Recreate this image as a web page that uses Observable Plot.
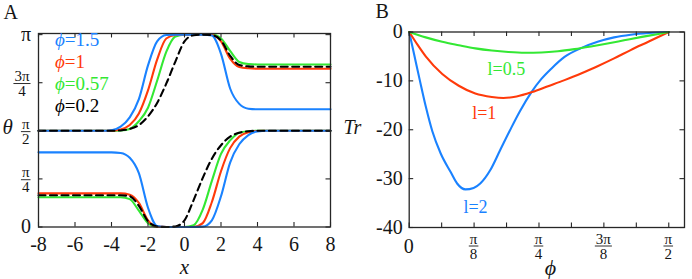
<!DOCTYPE html>
<html><head><meta charset="utf-8">
<script src="https://cdn.jsdelivr.net/npm/d3@7"></script>
<script src="https://cdn.jsdelivr.net/npm/@observablehq/plot@0.6"></script>
<style>
body{margin:0;background:#fff;}
#wrap{position:relative;width:692px;height:279px;overflow:hidden;background:#fff;}
#wrap svg{position:absolute;top:0;}
</style></head><body><div id="wrap"></div>
<script>
// ---------------- Panel A data (theta in units of pi) ----------------
const xA = [-8,-5,-4.5,-4,-3.5,-3,-2.5,-2,-1.5,-1,-0.5,0,0.5,1,1.5,2,2.5,3,3.5,4,4.5,5,8];
const upper15  = [0.5,0.5,0.5,0.503,0.522,0.57,0.665,0.84,0.965,0.998,1,1,1,1,0.995,0.9,0.72,0.64,0.615,0.612,0.612,0.612,0.612];
const upper1   = [0.5,0.5,0.5,0.501,0.507,0.53,0.59,0.71,0.87,0.98,0.998,1,1,1,0.998,0.965,0.875,0.832,0.825,0.823,0.823,0.823,0.823];
const upper057 = [0.5,0.5,0.5,0.5,0.502,0.51,0.55,0.62,0.76,0.91,0.99,1,1,1,1,0.98,0.915,0.858,0.847,0.845,0.845,0.845,0.845];
const upper02  = [0.5,0.5,0.5,0.5,0.502,0.51,0.53,0.575,0.645,0.745,0.86,0.965,0.997,1,0.997,0.97,0.89,0.842,0.835,0.833,0.833,0.833,0.833];
const lower15  = [0.388,0.388,0.388,0.388,0.385,0.36,0.28,0.1,0.005,0,0,0,0,0.002,0.035,0.16,0.335,0.43,0.478,0.497,0.5,0.5,0.5];
const lower1   = [0.175,0.175,0.175,0.175,0.175,0.168,0.125,0.035,0.002,0,0,0,0,0.02,0.13,0.29,0.41,0.47,0.493,0.499,0.5,0.5,0.5];
const lower057 = [0.155,0.155,0.155,0.155,0.155,0.145,0.085,0.02,0,0,0,0,0.009,0.09,0.24,0.38,0.45,0.49,0.498,0.5,0.5,0.5,0.5];
const lower02  = [0.165,0.165,0.165,0.165,0.165,0.16,0.11,0.03,0.003,0,0.003,0.035,0.14,0.255,0.355,0.425,0.47,0.49,0.498,0.5,0.5,0.5,0.5];
const phiNames = ["1.5","1","0.57","0.2"];
const xTicksA = [-8,-6,-4,-2,0,2,4,6,8];
const yTicksA = [0, Math.PI/4, Math.PI/2, 3*Math.PI/4, Math.PI];
const yNumA = ["0","π","π","3π","π"];
const yDenA = [null,"4","2","4",null];

// ---------------- Panel B data ----------------
const phiL2 = [0,0.03,0.065,0.1,0.14,0.19,0.25,0.29,0.34,0.39,0.43,0.49,0.55,0.61,0.67,0.74,0.8,0.86,0.94,1.04,1.14,1.24,1.34,1.45,1.5708];
const trL2  = [0,-4.6,-10,-15.2,-20.3,-24.8,-28.6,-31,-32.2,-31.9,-31,-28.3,-24.2,-20.1,-16.2,-12.3,-9.6,-7.5,-5.1,-3.3,-2.0,-1.1,-0.55,-0.2,0];
const phiL1 = [0,0.05,0.1,0.2,0.3,0.4,0.5,0.57,0.65,0.744,0.84,0.94,1.04,1.14,1.24,1.34,1.45,1.5708];
const trL1  = [0,-2.6,-5,-8.6,-11,-12.6,-13.3,-13.5,-13.2,-12.3,-11.1,-9.85,-8.5,-7.0,-5.4,-3.7,-1.95,0];
const phiL05 = [0,0.1,0.2,0.3,0.4,0.5,0.6,0.7,0.8,0.9,1.0,1.1,1.2,1.3,1.4,1.5,1.5708];
const trL05  = [0,-1.1,-2.0,-2.7,-3.35,-3.8,-4.1,-4.25,-4.2,-3.95,-3.5,-2.95,-2.35,-1.7,-1.05,-0.45,0];
const lNames = ["l=2","l=1","l=0.5"];
const lLabelPhi = [0.328, 0.381, 0.474];
const lLabelTr  = [-37.1, -17.9, -8.9];
const yTicksB = [0,-10,-20,-30,-40];
const xMinorB = d3.range(0, 9).map(k => k*Math.PI/16);
const xTicksB = [0, Math.PI/8, Math.PI/4, 3*Math.PI/8, Math.PI/2];
const xNumB = ["0","π","π","3π","π"];
const xDenB = [null,"8","4","8","2"];

// ---------------- styles ----------------
const SERIF = "Liberation Serif, DejaVu Serif, Times New Roman, serif";
const INK = "#161616", AXIS = "#262626";
const BLUE = "#1a82ff", RED = "#ff3a0a", GREEN = "#33e833", BLACK = "#000000";
const colorsA = [BLUE, RED, GREEN, BLACK];
const colorsB = [BLUE, RED, GREEN];

function rows(xs, ys, f = v => v) { return xs.map((x, i) => ({x, y: f(ys[i])})); }
function scaleFn(s) { return s.apply ? (v => s.apply(v)) : d3.scaleLinear(s.domain, s.range); }

const wrap = document.getElementById("wrap");

// ================= Panel A =================
const A = {w: 336, h: 279, ml: 38, mr: 6, mt: 33, mb: 52.5};
const fwA = A.w - A.ml - A.mr, fhA = A.h - A.mt - A.mb;
const toRad = v => v * Math.PI;
const seriesA = [
  {up: upper057, lo: lower057, color: GREEN},
  {up: upper1, lo: lower1, color: RED},
  {up: upper15, lo: lower15, color: BLUE},
  {up: upper02, lo: lower02, color: BLACK, dash: "7,4.5"}
];
const marksA = [];
for (const s of seriesA) {
  for (const arr of [s.up, s.lo]) {
    marksA.push(Plot.line(rows(xA, arr, toRad), {x: "x", y: "y", stroke: s.color, strokeWidth: 2.1,
      curve: "monotone-x", strokeDasharray: s.dash || null, strokeLinejoin: "round"}));
  }
}
const plotA = Plot.plot({
  width: A.w, height: A.h, marginLeft: A.ml, marginRight: A.mr, marginTop: A.mt, marginBottom: A.mb,
  x: {domain: [-8, 8], axis: null},
  y: {domain: [0, 3.16], axis: null},
  style: {background: "transparent", overflow: "visible", fontFamily: SERIF},
  marks: [
    ...marksA,
    Plot.frame({stroke: AXIS, strokeWidth: 1.3}),
    Plot.tickX(xTicksA, {x: d => d, stroke: AXIS, strokeWidth: 1.1, insetTop: fhA - 4.5}),
    Plot.tickX(xTicksA, {x: d => d, stroke: AXIS, strokeWidth: 1.1, insetBottom: fhA - 4.5}),
    Plot.tickY(yTicksA, {y: d => d, stroke: AXIS, strokeWidth: 1.1, insetRight: fwA - 4.5}),
    Plot.tickY(yTicksA, {y: d => d, stroke: AXIS, strokeWidth: 1.1, insetLeft: fwA - 4.5}),
    Plot.text(xTicksA, {x: d => d, text: d => String(d), frameAnchor: "bottom", dy: 24, lineAnchor: "bottom",
      fontSize: 20, fill: INK, fontFamily: SERIF}),
    Plot.text(["x"], {text: d => d, frameAnchor: "bottom", dy: 46.5, lineAnchor: "bottom", fontSize: 21,
      fontStyle: "italic", fill: INK, fontFamily: SERIF}),
    Plot.text(["θ"], {text: d => d, frameAnchor: "left", textAnchor: "start", dx: -36, dy: 3.5, lineAnchor: "bottom",
      fontSize: 21, fontStyle: "italic", fill: INK, fontFamily: SERIF}),
    Plot.text(["A"], {text: d => d, frameAnchor: "top-left", textAnchor: "start", dx: -35, dy: -15, lineAnchor: "bottom",
      fontSize: 20, fill: INK, fontFamily: SERIF})
  ]
});
plotA.style.left = "0px";
wrap.append(plotA);

// ================= Panel B =================
const B = {left: 336, w: 356, h: 279, ml: 72.7, mr: 8, mt: 31.5, mb: 52};
const fwB = B.w - B.ml - B.mr, fhB = B.h - B.mt - B.mb;
const seriesB = [
  {phi: phiL2, tr: trL2, color: BLUE},
  {phi: phiL1, tr: trL1, color: RED},
  {phi: phiL05, tr: trL05, color: GREEN}
];
const plotB = Plot.plot({
  width: B.w, height: B.h, marginLeft: B.ml, marginRight: B.mr, marginTop: B.mt, marginBottom: B.mb,
  x: {domain: [0, 1.666], axis: null},
  y: {domain: [-40, 0], axis: null},
  style: {background: "transparent", overflow: "visible", fontFamily: SERIF},
  marks: [
    ...seriesB.map(s => Plot.line(rows(s.phi, s.tr), {x: "x", y: "y", stroke: s.color, strokeWidth: 2.1,
      curve: "monotone-x", strokeLinejoin: "round"})),
    ...lNames.map((t, i) => Plot.text([i], {x: j => lLabelPhi[j], y: j => lLabelTr[j], text: j => lNames[j],
      textAnchor: "start", lineAnchor: "bottom", fontSize: 18, fill: colorsB[i], fontFamily: SERIF})),
    Plot.frame({stroke: AXIS, strokeWidth: 1.3}),
    Plot.tickX(xMinorB, {x: d => d, stroke: AXIS, strokeWidth: 1.1, insetTop: fhB - 4.5}),
    Plot.tickX(xMinorB, {x: d => d, stroke: AXIS, strokeWidth: 1.1, insetBottom: fhB - 4.5}),
    Plot.tickY(yTicksB, {y: d => d, stroke: AXIS, strokeWidth: 1.1, insetRight: fwB - 4.5}),
    Plot.tickY(yTicksB, {y: d => d, stroke: AXIS, strokeWidth: 1.1, insetLeft: fwB - 4.5}),
    Plot.text(yTicksB, {y: d => d, text: d => String(d), frameAnchor: "left", textAnchor: "end", dx: -6.5,
      lineAnchor: "middle", fontSize: 20, fill: INK, fontFamily: SERIF}),
    Plot.text(["ϕ"], {text: d => d, frameAnchor: "bottom", dx: 3.5, dy: 47, lineAnchor: "bottom", fontSize: 22,
      fontStyle: "italic", fill: INK, fontFamily: SERIF}),
    Plot.text(["Tr"], {text: d => d, frameAnchor: "left", textAnchor: "start", dx: -65.7, dy: 3.75, lineAnchor: "bottom",
      fontSize: 20, fontStyle: "italic", fill: INK, fontFamily: SERIF}),
    Plot.text(["B"], {text: d => d, frameAnchor: "top-left", textAnchor: "start", dx: -33.7, dy: -14.5, lineAnchor: "bottom",
      fontSize: 20, fill: INK, fontFamily: SERIF})
  ]
});
plotB.style.left = B.left + "px";
wrap.append(plotB);

// ================= fraction tick labels (d3, positioned with Plot scales) =================
function fracVertical(svg, xRight, y, num, den) {
  const g = svg.append("g").attr("font-family", SERIF).attr("fill", INK);
  if (den == null) {
    g.append("text").attr("x", xRight + 1.5).attr("y", y + 6.8).attr("text-anchor", "end")
      .attr("font-size", 20).text(num);
    return;
  }
  const t = g.append("text").attr("x", xRight).attr("y", y - 1).attr("text-anchor", "end")
    .attr("font-size", 15).text(num);
  const w = t.node().getComputedTextLength();
  g.append("line").attr("x1", xRight - w - 1).attr("x2", xRight + 1).attr("y1", y + 1.3).attr("y2", y + 1.3)
    .attr("stroke", INK).attr("stroke-width", 0.9);
  g.append("text").attr("x", xRight - w / 2).attr("y", y + 14).attr("text-anchor", "middle")
    .attr("font-size", 15).text(den);
}
function fracHorizontal(svg, xc, yBar, num, den) {
  const g = svg.append("g").attr("font-family", SERIF).attr("fill", INK);
  if (den == null) {
    g.append("text").attr("x", xc).attr("y", yBar + 7.3).attr("text-anchor", "middle")
      .attr("font-size", 20).text(num);
    return;
  }
  const t = g.append("text").attr("x", xc).attr("y", yBar - 2.5).attr("text-anchor", "middle")
    .attr("font-size", 15).text(num);
  const w = t.node().getComputedTextLength();
  g.append("line").attr("x1", xc - w / 2 - 1).attr("x2", xc + w / 2 + 1).attr("y1", yBar).attr("y2", yBar)
    .attr("stroke", INK).attr("stroke-width", 0.9);
  g.append("text").attr("x", xc).attr("y", yBar + 12.5).attr("text-anchor", "middle")
    .attr("font-size", 15).text(den);
}

const svgA = d3.select(plotA);
const syA = scaleFn(plotA.scale("y"));
yTicksA.forEach((v, i) => fracVertical(svgA, A.ml - 8.5, syA(v), yNumA[i], yDenA[i]));

// legend for panel A
const legA = svgA.append("g").attr("font-family", SERIF).attr("font-size", 19).attr("text-anchor", "start");
phiNames.forEach((p, i) => {
  const t = legA.append("text").attr("x", A.ml + 17).attr("y", A.mt + 13 + 22 * i)
    .attr("text-anchor", "start").attr("fill", colorsA[i]);
  t.append("tspan").attr("font-style", "italic").text("ϕ");
  t.append("tspan").text("=" + p);
});

const svgB = d3.select(plotB);
const sxB = scaleFn(plotB.scale("x"));
xTicksB.forEach((v, i) => fracHorizontal(svgB, sxB(v), B.h - B.mb + 19, xNumB[i], xDenB[i]));
</script>
</body></html>
